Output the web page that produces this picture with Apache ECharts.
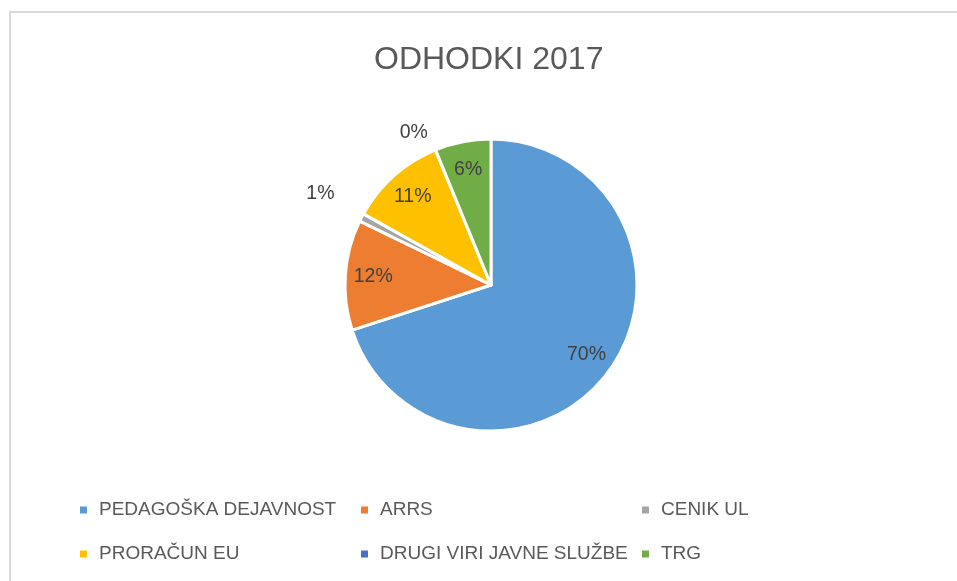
<!DOCTYPE html>
<html>
<head>
<meta charset="utf-8">
<title>ODHODKI 2017</title>
<script src="https://cdn.jsdelivr.net/npm/echarts@6/dist/echarts.min.js"></script>
<style>
  html, body { margin: 0; padding: 0; background: #fff; }
  #chart { width: 957px; height: 581px; }
</style>
</head>
<body>
<div id="chart"></div>
<script>
// podatki (delež odhodkov, %)
const categories = ['PEDAGOŠKA DEJAVNOST', 'ARRS', 'CENIK UL', 'PRORAČUN EU', 'DRUGI VIRI JAVNE SLUŽBE', 'TRG'];
const values = [70.0, 12.2, 0.9, 10.7, 0, 6.2];
const colors = ['#5B9BD5', '#ED7D31', '#A5A5A5', '#FFC000', '#4472C4', '#70AD47'];
// which slices get their label outside the pie
const outsideLabel = [false, false, true, false, true, false];

const font = 'Liberation Sans, Arial, sans-serif';
const center = [491, 285];
const R = 146;

function pct(p) {
  return Math.round(p.percent) + '%';
}

const labelStyle = {
  fontSize: 19.5,
  color: '#404040',
  fontFamily: font,
  formatter: pct
};

var myChart = echarts.init(document.getElementById('chart'), null, { renderer: 'canvas' });

var option = {
  animation: false,
  color: colors,
  title: {
    text: 'ODHODKI 2017',
    left: 374,
    top: 44,
    padding: 0,
    textStyle: { fontSize: 32, fontWeight: 'normal', color: '#595959', fontFamily: font }
  },
  legend: {
    data: categories,
    left: 80,
    top: 493,
    width: 870,
    padding: 0,
    itemGap: 10,
    itemWidth: 14,
    itemHeight: 7,
    // square marker, with some empty room before the text
    icon: 'path://M0,0H7V7H0Z M14,0L14,7',
    itemStyle: { borderWidth: 0 },
    selectedMode: false,
    textStyle: {
      fontSize: 19,
      color: '#595959',
      fontFamily: font,
      width: 252,
      lineHeight: 34
    }
  },
  graphic: [
    { type: 'line', shape: { x1: 9, y1: 12, x2: 957, y2: 12 }, style: { stroke: '#D9D9D9', lineWidth: 2 }, silent: true },
    { type: 'line', shape: { x1: 10, y1: 11, x2: 10, y2: 581 }, style: { stroke: '#D9D9D9', lineWidth: 2 }, silent: true }
  ],
  series: [
    {
      // the pie itself
      type: 'pie',
      center: center,
      radius: R,
      startAngle: 90,
      clockwise: true,
      avoidLabelOverlap: false,
      itemStyle: { borderColor: '#fff', borderWidth: 3 },
      label: { show: false },
      labelLine: { show: false },
      emphasis: { disabled: true },
      data: categories.map((c, i) => ({ name: c, value: values[i] }))
    },
    {
      // inside labels, on a transparent ring so they sit near the rim
      type: 'pie',
      center: center,
      radius: [84, R],
      startAngle: 90,
      silent: true,
      avoidLabelOverlap: false,
      itemStyle: { color: 'rgba(0,0,0,0)' },
      emphasis: { disabled: true },
      labelLine: { show: false },
      data: categories.map((c, i) => ({
        name: c,
        value: values[i],
        label: Object.assign({ show: !outsideLabel[i], position: 'inside' }, labelStyle)
      }))
    },
    {
      // outside labels for the tiny slices
      type: 'pie',
      center: center,
      radius: [R, 244],
      startAngle: 90,
      silent: true,
      avoidLabelOverlap: false,
      itemStyle: { color: 'rgba(0,0,0,0)' },
      emphasis: { disabled: true },
      labelLine: { show: false },
      data: categories.map((c, i) => ({
        name: c,
        value: values[i],
        label: Object.assign({
          show: outsideLabel[i],
          position: 'inside',
          offset: i === 4 ? [-2, 31] : [5, 0]
        }, labelStyle)
      }))
    }
  ]
};

option && myChart.setOption(option);
</script>
</body>
</html>
